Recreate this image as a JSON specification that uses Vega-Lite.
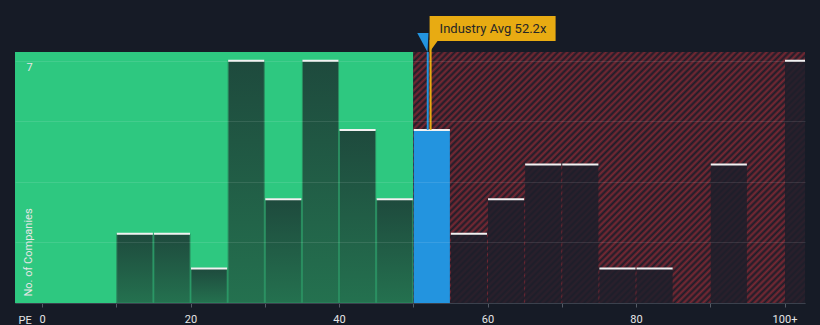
{
  "$schema": "https://vega.github.io/schema/vega-lite/v6.json",
  "width": 790,
  "height": 251,
  "autosize": {"type": "none"},
  "padding": {"left": 15, "top": 52, "right": 15, "bottom": 22},
  "background": "#161b26",
  "config": {
    "view": {"stroke": null},
    "font": "Roboto",
    "axisX": {"grid": false, "domainColor": "#3b414d", "tickColor": "#555b66", "tickSize": 4, "labelColor": "#e6e6e6", "labelFontSize": 11, "labelPadding": 6, "titleColor": "#e6e6e6", "titleFontSize": 11, "titleFontWeight": "normal"},
    "axisY": {"grid": true, "gridColor": "#ffffff", "gridOpacity": 0.1, "domain": false, "ticks": false, "labelColor": "#e6e6e6", "labelFontSize": 11, "titleColor": "#e6e6e6", "titleFontSize": 11, "titleFontWeight": "normal"}
  },
  "datasets": {
    "zones": [
      {"from": -3.64, "to": 50, "zone": "low"},
      {"from": 50, "to": 102.76, "zone": "high"}
    ],
    "bins": [
      {"start": 10, "end": 15, "count": 2, "zone": "low"},
      {"start": 15, "end": 20, "count": 2, "zone": "low"},
      {"start": 20, "end": 25, "count": 1, "zone": "low"},
      {"start": 25, "end": 30, "count": 7, "zone": "low"},
      {"start": 30, "end": 35, "count": 3, "zone": "low"},
      {"start": 35, "end": 40, "count": 7, "zone": "low"},
      {"start": 40, "end": 45, "count": 5, "zone": "low"},
      {"start": 45, "end": 50, "count": 3, "zone": "low"},
      {"start": 50, "end": 55, "count": 5, "zone": "mid"},
      {"start": 55, "end": 60, "count": 2, "zone": "high"},
      {"start": 60, "end": 65, "count": 3, "zone": "high"},
      {"start": 65, "end": 70, "count": 4, "zone": "high"},
      {"start": 70, "end": 75, "count": 4, "zone": "high"},
      {"start": 75, "end": 80, "count": 1, "zone": "high"},
      {"start": 80, "end": 85, "count": 1, "zone": "high"},
      {"start": 90, "end": 95, "count": 4, "zone": "high"},
      {"start": 100, "end": 105, "count": 7, "zone": "high"}
    ],
    "avg": [{"industry": 52.2, "company": 51.95, "label": "Industry Avg 52.2x", "top": 5}]
  },
  "layer": [
    {
      "data": {"name": "zones"},
      "transform": [{"filter": "datum.zone == 'low'"}],
      "mark": {"type": "rect", "fill": "#2ec880"},
      "encoding": {
        "x": {"field": "from", "type": "quantitative", "scale": {"domain": [-3.64, 102.76], "nice": false, "zero": false},
          "axis": {"values": [0,5,10,15,20,25,30,35,40,45,50,55,60,65,70,75,80,85,90,95,100], "labelExpr": "datum.value % 20 == 0 ? (datum.value == 100 ? '100+' : datum.value) : ''", "title": "PE", "titleX": 3, "titleY": 20, "titleAlign": "left", "titleBaseline": "alphabetic", "zindex": 1}},
        "x2": {"field": "to"},
        "y": {"datum": 0, "type": "quantitative", "scale": {"domain": [0, 7.25], "nice": false, "zero": true},
          "axis": {"values": [0, 1.75, 3.5, 5.25, 7], "labelExpr": "datum.value == 7 ? '7' : ''", "labelAlign": "left", "labelBaseline": "middle", "labelPadding": -11, "labelOffset": 7, "title": "No. of Companies", "titleAngle": -90, "titleX": 13, "titleY": 244, "titleAlign": "left", "titleBaseline": "middle", "zindex": 1}},
        "y2": {"datum": 7.25}
      }
    },
    {
      "data": {"name": "zones"},
      "transform": [{"filter": "datum.zone == 'high'"}],
      "mark": {"type": "rect", "fill": {"gradient": "linear", "x1": 0, "y1": 0, "x2": 1.165, "y2": 0.745, "stops": [
        {"offset":0,"color":"#7a2833"},{"offset":0.005,"color":"#1c1d29"},{"offset":0.01,"color":"#7a2833"},{"offset":0.015,"color":"#1c1d29"},{"offset":0.02,"color":"#7a2833"},{"offset":0.025,"color":"#1c1d29"},{"offset":0.03,"color":"#7a2833"},{"offset":0.035,"color":"#1c1d29"},{"offset":0.04,"color":"#7a2833"},{"offset":0.045,"color":"#1c1d29"},
        {"offset":0.05,"color":"#7a2833"},{"offset":0.055,"color":"#1c1d29"},{"offset":0.06,"color":"#7a2833"},{"offset":0.065,"color":"#1c1d29"},{"offset":0.07,"color":"#7a2833"},{"offset":0.075,"color":"#1c1d29"},{"offset":0.08,"color":"#7a2833"},{"offset":0.085,"color":"#1c1d29"},{"offset":0.09,"color":"#7a2833"},{"offset":0.095,"color":"#1c1d29"},
        {"offset":0.1,"color":"#7a2833"},{"offset":0.105,"color":"#1c1d29"},{"offset":0.11,"color":"#7a2833"},{"offset":0.115,"color":"#1c1d29"},{"offset":0.12,"color":"#7a2833"},{"offset":0.125,"color":"#1c1d29"},{"offset":0.13,"color":"#7a2833"},{"offset":0.135,"color":"#1c1d29"},{"offset":0.14,"color":"#7a2833"},{"offset":0.145,"color":"#1c1d29"},
        {"offset":0.15,"color":"#7a2833"},{"offset":0.155,"color":"#1c1d29"},{"offset":0.16,"color":"#7a2833"},{"offset":0.165,"color":"#1c1d29"},{"offset":0.17,"color":"#7a2833"},{"offset":0.175,"color":"#1c1d29"},{"offset":0.18,"color":"#7a2833"},{"offset":0.185,"color":"#1c1d29"},{"offset":0.19,"color":"#7a2833"},{"offset":0.195,"color":"#1c1d29"},
        {"offset":0.2,"color":"#7a2833"},{"offset":0.205,"color":"#1c1d29"},{"offset":0.21,"color":"#7a2833"},{"offset":0.215,"color":"#1c1d29"},{"offset":0.22,"color":"#7a2833"},{"offset":0.225,"color":"#1c1d29"},{"offset":0.23,"color":"#7a2833"},{"offset":0.235,"color":"#1c1d29"},{"offset":0.24,"color":"#7a2833"},{"offset":0.245,"color":"#1c1d29"},
        {"offset":0.25,"color":"#7a2833"},{"offset":0.255,"color":"#1c1d29"},{"offset":0.26,"color":"#7a2833"},{"offset":0.265,"color":"#1c1d29"},{"offset":0.27,"color":"#7a2833"},{"offset":0.275,"color":"#1c1d29"},{"offset":0.28,"color":"#7a2833"},{"offset":0.285,"color":"#1c1d29"},{"offset":0.29,"color":"#7a2833"},{"offset":0.295,"color":"#1c1d29"},
        {"offset":0.3,"color":"#7a2833"},{"offset":0.305,"color":"#1c1d29"},{"offset":0.31,"color":"#7a2833"},{"offset":0.315,"color":"#1c1d29"},{"offset":0.32,"color":"#7a2833"},{"offset":0.325,"color":"#1c1d29"},{"offset":0.33,"color":"#7a2833"},{"offset":0.335,"color":"#1c1d29"},{"offset":0.34,"color":"#7a2833"},{"offset":0.345,"color":"#1c1d29"},
        {"offset":0.35,"color":"#7a2833"},{"offset":0.355,"color":"#1c1d29"},{"offset":0.36,"color":"#7a2833"},{"offset":0.365,"color":"#1c1d29"},{"offset":0.37,"color":"#7a2833"},{"offset":0.375,"color":"#1c1d29"},{"offset":0.38,"color":"#7a2833"},{"offset":0.385,"color":"#1c1d29"},{"offset":0.39,"color":"#7a2833"},{"offset":0.395,"color":"#1c1d29"},
        {"offset":0.4,"color":"#7a2833"},{"offset":0.405,"color":"#1c1d29"},{"offset":0.41,"color":"#7a2833"},{"offset":0.415,"color":"#1c1d29"},{"offset":0.42,"color":"#7a2833"},{"offset":0.425,"color":"#1c1d29"},{"offset":0.43,"color":"#7a2833"},{"offset":0.435,"color":"#1c1d29"},{"offset":0.44,"color":"#7a2833"},{"offset":0.445,"color":"#1c1d29"},
        {"offset":0.45,"color":"#7a2833"},{"offset":0.455,"color":"#1c1d29"},{"offset":0.46,"color":"#7a2833"},{"offset":0.465,"color":"#1c1d29"},{"offset":0.47,"color":"#7a2833"},{"offset":0.475,"color":"#1c1d29"},{"offset":0.48,"color":"#7a2833"},{"offset":0.485,"color":"#1c1d29"},{"offset":0.49,"color":"#7a2833"},{"offset":0.495,"color":"#1c1d29"},
        {"offset":0.5,"color":"#7a2833"},{"offset":0.505,"color":"#1c1d29"},{"offset":0.51,"color":"#7a2833"},{"offset":0.515,"color":"#1c1d29"},{"offset":0.52,"color":"#7a2833"},{"offset":0.525,"color":"#1c1d29"},{"offset":0.53,"color":"#7a2833"},{"offset":0.535,"color":"#1c1d29"},{"offset":0.54,"color":"#7a2833"},{"offset":0.545,"color":"#1c1d29"},
        {"offset":0.55,"color":"#7a2833"},{"offset":0.555,"color":"#1c1d29"},{"offset":0.56,"color":"#7a2833"},{"offset":0.565,"color":"#1c1d29"},{"offset":0.57,"color":"#7a2833"},{"offset":0.575,"color":"#1c1d29"},{"offset":0.58,"color":"#7a2833"},{"offset":0.585,"color":"#1c1d29"},{"offset":0.59,"color":"#7a2833"},{"offset":0.595,"color":"#1c1d29"},
        {"offset":0.6,"color":"#7a2833"},{"offset":0.605,"color":"#1c1d29"},{"offset":0.61,"color":"#7a2833"},{"offset":0.615,"color":"#1c1d29"},{"offset":0.62,"color":"#7a2833"},{"offset":0.625,"color":"#1c1d29"},{"offset":0.63,"color":"#7a2833"},{"offset":0.635,"color":"#1c1d29"},{"offset":0.64,"color":"#7a2833"},{"offset":0.645,"color":"#1c1d29"},
        {"offset":0.65,"color":"#7a2833"},{"offset":0.655,"color":"#1c1d29"},{"offset":0.66,"color":"#7a2833"},{"offset":0.665,"color":"#1c1d29"},{"offset":0.67,"color":"#7a2833"},{"offset":0.675,"color":"#1c1d29"},{"offset":0.68,"color":"#7a2833"},{"offset":0.685,"color":"#1c1d29"},{"offset":0.69,"color":"#7a2833"},{"offset":0.695,"color":"#1c1d29"},
        {"offset":0.7,"color":"#7a2833"},{"offset":0.705,"color":"#1c1d29"},{"offset":0.71,"color":"#7a2833"},{"offset":0.715,"color":"#1c1d29"},{"offset":0.72,"color":"#7a2833"},{"offset":0.725,"color":"#1c1d29"},{"offset":0.73,"color":"#7a2833"},{"offset":0.735,"color":"#1c1d29"},{"offset":0.74,"color":"#7a2833"},{"offset":0.745,"color":"#1c1d29"},
        {"offset":0.75,"color":"#7a2833"},{"offset":0.755,"color":"#1c1d29"},{"offset":0.76,"color":"#7a2833"},{"offset":0.765,"color":"#1c1d29"},{"offset":0.77,"color":"#7a2833"},{"offset":0.775,"color":"#1c1d29"},{"offset":0.78,"color":"#7a2833"},{"offset":0.785,"color":"#1c1d29"},{"offset":0.79,"color":"#7a2833"},{"offset":0.795,"color":"#1c1d29"},
        {"offset":0.8,"color":"#7a2833"},{"offset":0.805,"color":"#1c1d29"},{"offset":0.81,"color":"#7a2833"},{"offset":0.815,"color":"#1c1d29"},{"offset":0.82,"color":"#7a2833"},{"offset":0.825,"color":"#1c1d29"},{"offset":0.83,"color":"#7a2833"},{"offset":0.835,"color":"#1c1d29"},{"offset":0.84,"color":"#7a2833"},{"offset":0.845,"color":"#1c1d29"},
        {"offset":0.85,"color":"#7a2833"},{"offset":0.855,"color":"#1c1d29"},{"offset":0.86,"color":"#7a2833"},{"offset":0.865,"color":"#1c1d29"},{"offset":0.87,"color":"#7a2833"},{"offset":0.875,"color":"#1c1d29"},{"offset":0.88,"color":"#7a2833"},{"offset":0.885,"color":"#1c1d29"},{"offset":0.89,"color":"#7a2833"},{"offset":0.895,"color":"#1c1d29"},
        {"offset":0.9,"color":"#7a2833"},{"offset":0.905,"color":"#1c1d29"},{"offset":0.91,"color":"#7a2833"},{"offset":0.915,"color":"#1c1d29"},{"offset":0.92,"color":"#7a2833"},{"offset":0.925,"color":"#1c1d29"},{"offset":0.93,"color":"#7a2833"},{"offset":0.935,"color":"#1c1d29"},{"offset":0.94,"color":"#7a2833"},{"offset":0.945,"color":"#1c1d29"},
        {"offset":0.95,"color":"#7a2833"},{"offset":0.955,"color":"#1c1d29"},{"offset":0.96,"color":"#7a2833"},{"offset":0.965,"color":"#1c1d29"},{"offset":0.97,"color":"#7a2833"},{"offset":0.975,"color":"#1c1d29"},{"offset":0.98,"color":"#7a2833"},{"offset":0.985,"color":"#1c1d29"},{"offset":0.99,"color":"#7a2833"},{"offset":0.995,"color":"#1c1d29"},
        {"offset":1,"color":"#7a2833"}
      ]}},
      "encoding": {
        "x": {"field": "from", "type": "quantitative", "scale": {"domain": [-3.64, 102.76], "nice": false, "zero": false}},
        "x2": {"field": "to"},
        "y": {"datum": 0, "type": "quantitative", "scale": {"domain": [0, 7.25], "nice": false}},
        "y2": {"datum": 7.25}
      }
    },
    {
      "data": {"name": "bins"},
      "transform": [{"filter": "datum.zone == 'low'"}],
      "mark": {"type": "rect", "clip": true, "xOffset": 0.5, "x2Offset": -0.5, "stroke": "#2b8c60", "strokeWidth": 1,
        "fill": {"gradient": "linear", "x1": 0, "y1": 0, "x2": 0, "y2": 1, "stops": [{"offset": 0, "color": "#1e4a3d"}, {"offset": 1, "color": "#24714f"}]}},
      "encoding": {
        "x": {"field": "start", "type": "quantitative", "scale": {"domain": [-3.64, 102.76], "nice": false, "zero": false}},
        "x2": {"field": "end"},
        "y": {"field": "count", "type": "quantitative", "scale": {"domain": [0, 7.25], "nice": false}},
        "y2": {"datum": 0}
      }
    },
    {
      "data": {"name": "bins"},
      "transform": [{"filter": "datum.zone == 'high'"}],
      "mark": {"type": "rect", "clip": true, "xOffset": 0.5, "x2Offset": -0.5, "fill": "#1d1f2a", "opacity": 0.85},
      "encoding": {
        "x": {"field": "start", "type": "quantitative", "scale": {"domain": [-3.64, 102.76], "nice": false, "zero": false}},
        "x2": {"field": "end"},
        "y": {"field": "count", "type": "quantitative", "scale": {"domain": [0, 7.25], "nice": false}},
        "y2": {"datum": 0}
      }
    },
    {
      "data": {"name": "bins"},
      "transform": [{"filter": "datum.zone == 'mid'"}],
      "mark": {"type": "rect", "clip": true, "xOffset": 0.5, "x2Offset": -0.5, "fill": "#2394df"},
      "encoding": {
        "x": {"field": "start", "type": "quantitative", "scale": {"domain": [-3.64, 102.76], "nice": false, "zero": false}},
        "x2": {"field": "end"},
        "y": {"field": "count", "type": "quantitative", "scale": {"domain": [0, 7.25], "nice": false}},
        "y2": {"datum": 0}
      }
    },
    {
      "data": {"name": "bins"},
      "mark": {"type": "rule", "clip": true, "color": "#f2f2f2", "strokeWidth": 2, "xOffset": 0.5, "x2Offset": -0.5},
      "encoding": {
        "x": {"field": "start", "type": "quantitative", "scale": {"domain": [-3.64, 102.76], "nice": false, "zero": false}},
        "x2": {"field": "end"},
        "y": {"field": "count", "type": "quantitative", "scale": {"domain": [0, 7.25], "nice": false}}
      }
    },
    {
      "data": {"name": "avg"},
      "mark": {"type": "rule", "color": "#2394df", "strokeWidth": 2},
      "encoding": {
        "x": {"field": "company", "type": "quantitative", "scale": {"domain": [-3.64, 102.76], "nice": false, "zero": false}},
        "y": {"field": "top", "type": "quantitative", "scale": {"domain": [0, 7.25], "nice": false}},
        "y2": {"datum": 7.25}
      }
    },
    {
      "data": {"name": "avg"},
      "mark": {"type": "point", "filled": true, "fill": "#2394df", "opacity": 1, "strokeWidth": 0, "size": 361, "shape": "M-0.58,-1 L0.6,-1 L0.5,1 Z", "xOffset": -5, "yOffset": -9.5},
      "encoding": {
        "x": {"field": "company", "type": "quantitative", "scale": {"domain": [-3.64, 102.76], "nice": false, "zero": false}},
        "y": {"datum": 7.25, "type": "quantitative", "scale": {"domain": [0, 7.25], "nice": false}}
      }
    },
    {
      "data": {"name": "avg"},
      "mark": {"type": "rule", "color": "#e8ab12", "strokeWidth": 2, "xOffset": 1},
      "encoding": {
        "x": {"field": "industry", "type": "quantitative", "scale": {"domain": [-3.64, 102.76], "nice": false, "zero": false}},
        "y": {"field": "top", "type": "quantitative", "scale": {"domain": [0, 7.25], "nice": false}},
        "y2": {"datum": 7.6}
      }
    },
    {
      "data": {"name": "avg"},
      "mark": {"type": "point", "filled": true, "fill": "#e8ab12", "opacity": 1, "strokeWidth": 0, "size": 63504, "shape": "M0,-0.099 L1,-0.099 L1,0.099 L0.063,0.099 L0,0.186 Z", "yOffset": -23.5},
      "encoding": {
        "x": {"field": "industry", "type": "quantitative", "scale": {"domain": [-3.64, 102.76], "nice": false, "zero": false}},
        "y": {"datum": 7.25, "type": "quantitative", "scale": {"domain": [0, 7.25], "nice": false}}
      }
    },
    {
      "data": {"name": "avg"},
      "mark": {"type": "text", "align": "left", "baseline": "middle", "dx": 10, "dy": -23.5, "fontSize": 13, "color": "#262626"},
      "encoding": {
        "x": {"field": "industry", "type": "quantitative", "scale": {"domain": [-3.64, 102.76], "nice": false, "zero": false}},
        "y": {"datum": 7.25, "type": "quantitative", "scale": {"domain": [0, 7.25], "nice": false}},
        "text": {"field": "label"}
      }
    }
  ]
}
